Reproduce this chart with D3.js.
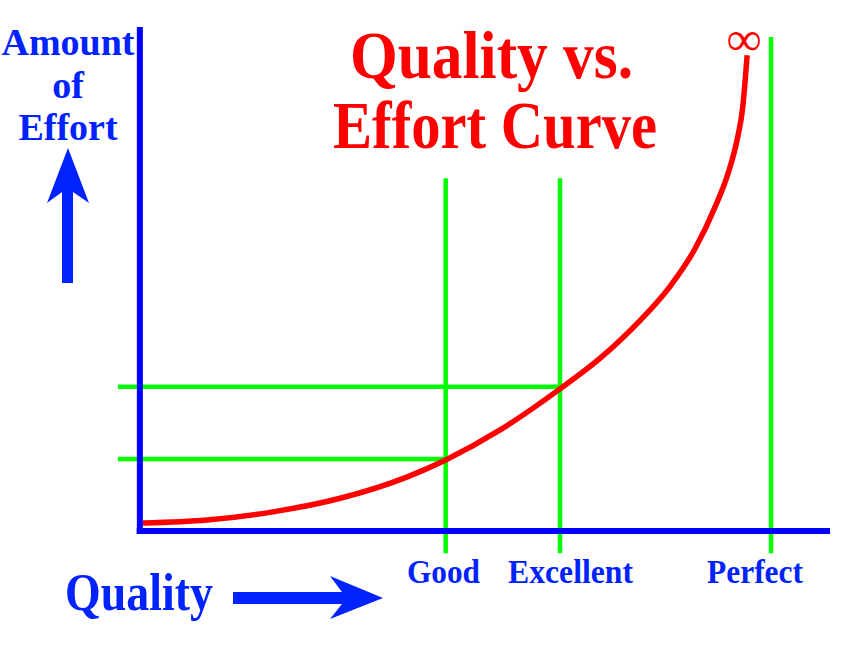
<!DOCTYPE html>
<html>
<head>
<meta charset="utf-8">
<script src="https://cdn.jsdelivr.net/npm/d3@7"></script>
<style>
  html, body { margin: 0; padding: 0; background: #fff; }
  svg { display: block; }
</style>
</head>
<body>
<div id="chart"></div>
<script>
// Curve readings (quality 0..100 where 100 = perfect, effort 0..100)
const quality = [0, 10.2, 20.7, 31.4, 42.0, 48.2, 56.8, 66.4, 72.8, 79.1, 83.9, 87.9, 91.1, 93.2, 94.6, 95.5, 96.2];
const effort = [1.6, 2.2, 3.8, 6.5, 10.7, 14.1, 20.0, 28.2, 34.3, 41.7, 48.5, 56.0, 64.3, 71.1, 77.6, 84.1, 94.4];

// Quality levels marked on the x axis
const levels = ["Good", "Excellent", "Perfect"];
const levelQuality = [48.2, 66.4, 100];
const levelEffort = [14.3, 28.6, null]; // horizontal guide for each level
const levelTop = [70, 70, 98];

const titleLines = ["Quality vs.", "Effort Curve"];
const yLabelLines = ["Amount", "of", "Effort"];

const width = 864,
  height = 648;

const blue = "#0000ff",
  textBlue = "#0022ff",
  green = "#00ff00",
  red = "#ff0000";
const serif = "'Liberation Serif', 'Times New Roman', serif";

let svg = d3
  .select("#chart")
  .append("svg")
  .attr("width", width)
  .attr("height", height);

let x = d3.scaleLinear().domain([0, 100]).range([143, 771]);
let y = d3.scaleLinear().domain([0, 100]).range([531, 27]);

// Green guide lines (vertical)
svg
  .selectAll(".vline")
  .data(levels)
  .enter()
  .append("line")
  .attr("class", "vline")
  .attr("x1", (d, i) => x(levelQuality[i]))
  .attr("x2", (d, i) => x(levelQuality[i]))
  .attr("y1", (d, i) => y(levelTop[i]))
  .attr("y2", y(-4.4))
  .attr("stroke", green)
  .attr("stroke-width", 4.5);

// Green guide lines (horizontal)
svg
  .selectAll(".hline")
  .data(levels.filter((d, i) => levelEffort[i] !== null))
  .enter()
  .append("line")
  .attr("class", "hline")
  .attr("x1", x(-4))
  .attr("x2", (d, i) => x(levelQuality[i]) + 2)
  .attr("y1", (d, i) => y(levelEffort[i]))
  .attr("y2", (d, i) => y(levelEffort[i]))
  .attr("stroke", green)
  .attr("stroke-width", 4.5);

// Axes (plain thick lines)
svg
  .append("line")
  .attr("x1", x(-0.5))
  .attr("x2", x(-0.5))
  .attr("y1", y(100))
  .attr("y2", y(-0.6))
  .attr("stroke", blue)
  .attr("stroke-width", 6);

svg
  .append("line")
  .attr("x1", x(-1))
  .attr("x2", x(109.4))
  .attr("y1", y(0))
  .attr("y2", y(0))
  .attr("stroke", blue)
  .attr("stroke-width", 6);

// Red effort curve
let line = d3
  .line()
  .x((d) => x(d))
  .y((d, i) => y(effort[i]))
  .curve(d3.curveMonotoneX);

svg
  .append("path")
  .attr("d", line(quality))
  .attr("fill", "none")
  .attr("stroke", red)
  .attr("stroke-width", 5.5)
  .attr("stroke-linecap", "butt");

// Infinity sign at the top of the curve
svg
  .append("text")
  .attr("x", x(quality[quality.length - 1]) - 3)
  .attr("y", 55)
  .attr("text-anchor", "middle")
  .style("font-family", serif)
  .style("font-weight", "bold")
  .style("font-size", "48px")
  .style("fill", red)
  .text("\u221E");

// Level labels under the axis
const labelLeft = [407, 508, 707];
const labelWidth = [73, 125, 96];
svg
  .selectAll(".level-label")
  .data(levels)
  .enter()
  .append("text")
  .attr("class", "level-label")
  .attr("x", (d, i) => labelLeft[i])
  .attr("y", 583)
  .attr("textLength", (d, i) => labelWidth[i])
  .attr("lengthAdjust", "spacingAndGlyphs")
  .style("font-family", serif)
  .style("font-weight", "bold")
  .style("font-size", "34px")
  .style("fill", textBlue)
  .text((d) => d);

// Title
const titleLeft = [350, 333];
const titleWidth = [283, 324];
svg
  .selectAll(".title")
  .data(titleLines)
  .enter()
  .append("text")
  .attr("class", "title")
  .attr("x", (d, i) => titleLeft[i])
  .attr("y", (d, i) => 78 + i * 70)
  .attr("textLength", (d, i) => titleWidth[i])
  .attr("lengthAdjust", "spacingAndGlyphs")
  .style("font-family", serif)
  .style("font-weight", "bold")
  .style("font-size", "68px")
  .style("fill", red)
  .text((d) => d);

// Y label
svg
  .append("text")
  .attr("text-anchor", "middle")
  .style("font-family", serif)
  .style("font-weight", "bold")
  .style("font-size", "38px")
  .style("fill", textBlue)
  .selectAll("tspan")
  .data(yLabelLines)
  .enter()
  .append("tspan")
  .attr("x", 68)
  .attr("y", (d, i) => 55 + i * 42.5)
  .text((d) => d);

// Up arrow
svg
  .append("path")
  .attr("d", "M68,148 L89,203 L73,192 L73,283 L62,283 L62,192 L47,203 Z")
  .attr("fill", textBlue);

// X label
svg
  .append("text")
  .attr("x", 65)
  .attr("y", 610)
  .attr("textLength", 148)
  .attr("lengthAdjust", "spacingAndGlyphs")
  .style("font-family", serif)
  .style("font-weight", "bold")
  .style("font-size", "52px")
  .style("fill", textBlue)
  .text("Quality");

// Right arrow
svg
  .append("path")
  .attr("d", "M383,598 L330,619 L342,604 L233,604 L233,592 L342,592 L330,576 Z")
  .attr("fill", textBlue);
</script>
</body>
</html>
